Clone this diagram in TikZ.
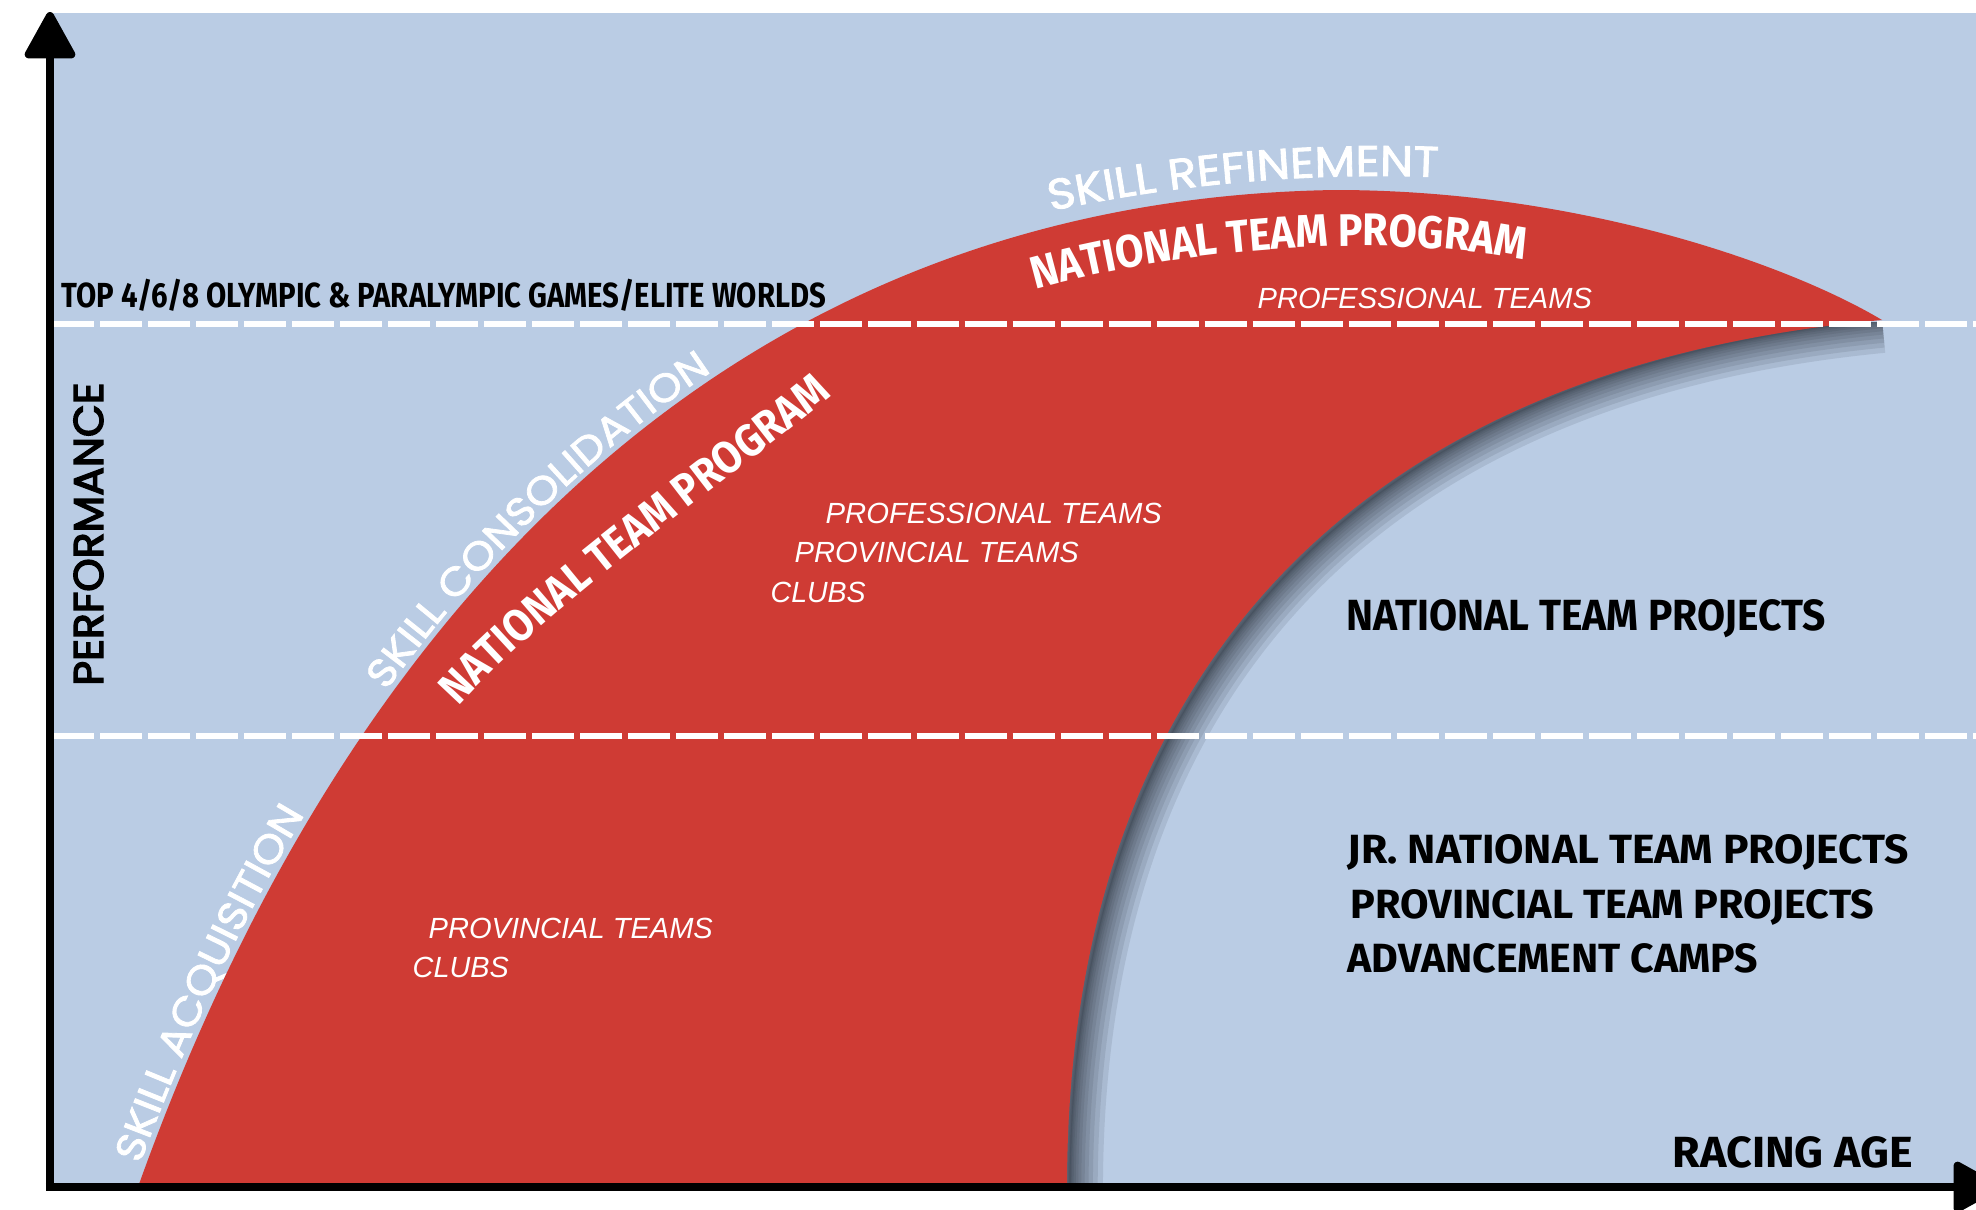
\documentclass[tikz,border=0pt]{standalone}
\usepackage{fontspec}
\usepackage{graphicx}
\usetikzlibrary{arrows.meta,decorations.text}
\setmainfont{Liberation Sans}
\newfontfamily\dinfont{Fira Sans}
\newfontfamily\dincurve{Fira Sans}[FakeStretch=0.9]
\newfontfamily\skillfont{Poppins}[FakeStretch=1.1, FakeBold=2]
\newfontfamily\axisfont{Poppins}[FakeBold=3.5]

\definecolor{skyblue}{RGB}{186,204,228}
\definecolor{teamred}{RGB}{207,59,52}
\definecolor{shadowgrey}{RGB}{38,46,56}

% squeeze a label to a given width, keep its height
\newcommand{\fitw}[2]{\resizebox{#1}{\height}{#2}}

\tikzset{
  blacklbl/.style={inner sep=0pt, anchor=base west, text=black, font=\dinfont\bfseries\fontsize{12.4}{14}\selectfont},
  teamlbl/.style={inner sep=0pt, anchor=base west, text=white, font=\itshape\fontsize{8.3}{10}\selectfont},
  axisline/.style={line width=2.3pt, -{Triangle[length=0.51cm,width=0.54cm,round]}},
  levelline/.style={white, line width=1.7pt, dash pattern=on 0.42cm off 0.06cm},
  edgeshade/.style={shadowgrey, opacity=0.11, xshift=0.03cm, yshift=-0.03cm},
}

\begin{document}
\begin{tikzpicture}[x=0.01cm,y=-0.01cm]
        \useasboundingbox (0,0) rectangle (1976,1209);
        \fill[skyblue] (50,13) rectangle (1976,1187);

        \coordinate (origin) at (50,1187);
        \coordinate (ytip) at (50,12);
        \coordinate (xtip) at (2000,1187);
        \coordinate (tip) at (1882,320);

        % shadow along the inner edge
        \begin{scope}
          \clip (50,322) rectangle (1976,1187);
          \foreach \i in {1,...,12}
            \draw[edgeshade, line width=\i*\i*0.13pt] (1067,1187) .. controls (1067,700) and (1330,370) .. (tip);
        \end{scope}

        \fill[teamred] (138,1187) .. controls (330,650) and (700,200) .. (1335,190)
          .. controls (1580,190) and (1790,265) .. (tip)
          .. controls (1330,370) and (1067,700) .. (1067,1187) -- cycle;

        \draw[levelline] (52,324) -- (1976,324);
        \draw[levelline] (52,736) -- (1976,736);

        % curved labels
        \path[decorate, decoration={text along path, text align={left indent=0.22cm}, raise=0.06cm,
          text={|\skillfont\fontsize{11.3}{14}\selectfont\color{white}|SKILL ACQUISITION}}]
          (138,1187) .. controls (330,650) and (700,200) .. (1335,190);
        \path[decorate, decoration={text along path, text align={left indent=5.55cm}, raise=0.06cm,
          text={|\skillfont\fontsize{11.2}{14}\selectfont\color{white}|SKILL CONSOLIDATION}}]
          (138,1187) .. controls (330,650) and (700,200) .. (1335,190);
        \path[decorate, decoration={text along path, text align=center,
          text={|\dincurve\bfseries\fontsize{12.8}{14}\selectfont\color{white}|NATIONAL TEAM PROGRAM}}]
          (435,734) .. controls (527,616) and (740,475) .. (860,372);
        \path[decorate, decoration={text along path, text align=center,
          text={|\skillfont\fontsize{12.2}{14}\selectfont\color{white}|SKILL REFINEMENT}}]
          (1001,222.5) .. controls (1160.5,182.7) and (1325.4,168.3) .. (1489.4,179.8);
        \path[decorate, decoration={text along path, text align=center,
          text={|\dincurve\bfseries\fontsize{13}{14}\selectfont\color{white}|NATIONAL TEAM PROGRAM}}]
          (1000,300) .. controls (1150,250) and (1400,225) .. (1560,268);

        \node[blacklbl, font=\dinfont\bfseries\fontsize{9.9}{12}\selectfont] (elite) at (61,307) {\fitw{7.64cm}{TOP 4/6/8 OLYMPIC \& PARALYMPIC GAMES/ELITE WORLDS}};
        \node[rotate=90, anchor=base, inner sep=0pt, font=\axisfont\fontsize{11.8}{14}\selectfont] (perf) at (103,534) {\fitw{3.03cm}{PERFORMANCE}};
        \node[blacklbl] (racing) at (1672,1167) {\fitw{2.40cm}{RACING AGE}};

        \node[blacklbl] (ntproj) at (1346,630) {\fitw{4.79cm}{NATIONAL TEAM PROJECTS}};
        \node[blacklbl, font=\dinfont\bfseries\fontsize{11.6}{14}\selectfont] (jrproj) at (1347,863) {\fitw{5.61cm}{JR. NATIONAL TEAM PROJECTS}};
        \node[blacklbl, font=\dinfont\bfseries\fontsize{11.6}{14}\selectfont] (provproj) at (1350,918) {\fitw{5.23cm}{PROVINCIAL TEAM PROJECTS}};
        \node[blacklbl, font=\dinfont\bfseries\fontsize{11.6}{14}\selectfont] (camps) at (1347,972) {\fitw{4.10cm}{ADVANCEMENT CAMPS}};

        \node[teamlbl] (proA) at (1257,308) {\fitw{3.34cm}{PROFESSIONAL TEAMS}};
        \node[teamlbl] (proB) at (825,523) {\fitw{3.36cm}{PROFESSIONAL TEAMS}};
        \node[teamlbl] (provB) at (794,562) {\fitw{2.84cm}{PROVINCIAL TEAMS}};
        \node[teamlbl] (clubB) at (770,602) {\fitw{0.95cm}{CLUBS}};
        \node[teamlbl] (provC) at (428,938) {\fitw{2.84cm}{PROVINCIAL TEAMS}};
        \node[teamlbl] (clubC) at (412,977) {\fitw{0.96cm}{CLUBS}};

        \draw[axisline] (origin) -- (ytip);
        \draw[axisline] ([xshift=-0.04cm]origin) -- (xtip);
\end{tikzpicture}
\end{document}
